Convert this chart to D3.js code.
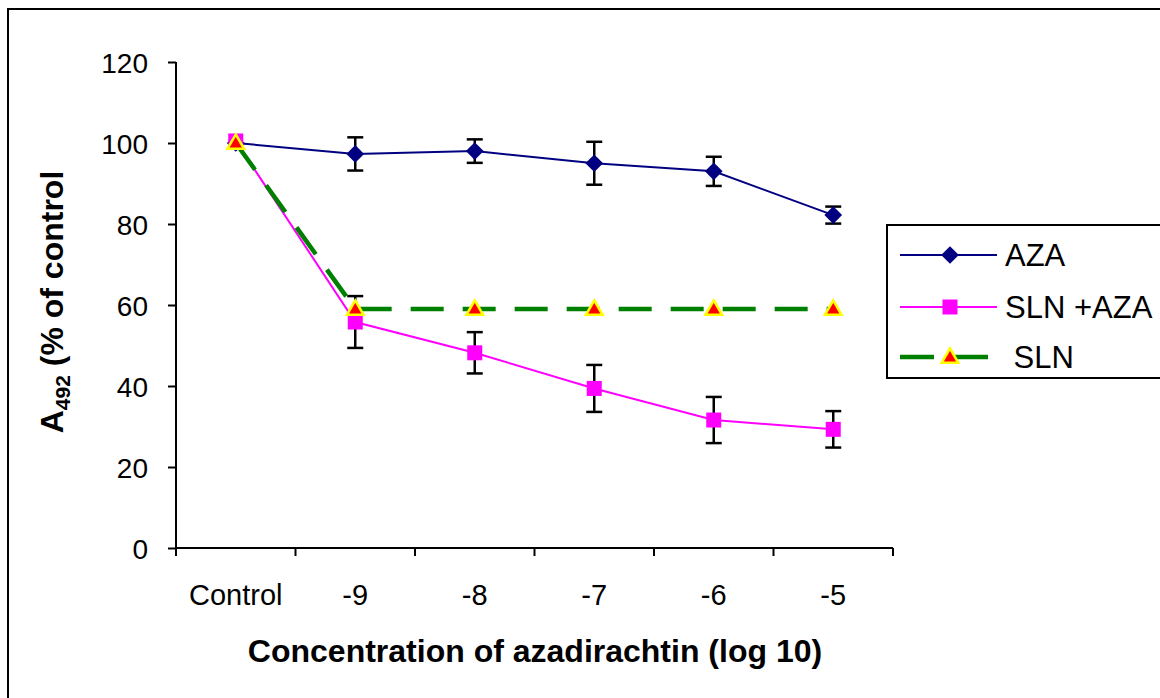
<!DOCTYPE html>
<html>
<head>
<meta charset="utf-8">
<script src="https://cdn.jsdelivr.net/npm/d3@7"></script>
<style>
  body { margin: 0; background: #fff; }
  svg { font-family: "Liberation Sans", Arial, sans-serif; }
</style>
</head>
<body>
<svg id="chart" width="1160" height="698"></svg>
<script>
// Chart data
const categories = ["Control", "-9", "-8", "-7", "-6", "-5"];
const azaValues = [100, 97.3, 98, 95, 93, 82.2];
const azaErrors = [0, 4.1, 2.9, 5.3, 3.6, 2.1];
const slnAzaValues = [100.5, 55.8, 48.2, 39.4, 31.6, 29.3];
const slnAzaErrors = [0, 6.4, 5.1, 5.8, 5.7, 4.5];
const slnValues = [100, 59, 59, 59, 59, 59];
const yTicks = [0, 20, 40, 60, 80, 100, 120];

const svg = d3.select("#chart");

// Outer frame
svg.append("rect")
    .attr("x", 8).attr("y", 9)
    .attr("width", 1170).attr("height", 710)
    .attr("fill", "none")
    .attr("stroke", "black")
    .attr("stroke-width", 2);

const plot = {left: 176, right: 893, top: 62, bottom: 548};

const x = d3.scaleBand()
    .domain(categories)
    .range([plot.left, plot.right]);

const y = d3.scaleLinear()
    .domain([0, 120])
    .range([plot.bottom, plot.top]);

const cx = d => x(d) + x.bandwidth() / 2;

// Y axis
const yAxis = svg.append("g")
    .attr("transform", `translate(${plot.left},0)`)
    .call(d3.axisLeft(y).tickValues(yTicks).tickSize(8).tickPadding(20));
yAxis.selectAll("text").style("font-size", "28px").attr("fill", "black").attr("dy", "0.36em");
yAxis.selectAll("line, path").attr("stroke", "black").attr("stroke-width", 2);
yAxis.select(".domain").attr("d", `M0,${plot.top}V${plot.bottom}`);

// X axis: line, boundary ticks, category labels
svg.append("line")
    .attr("x1", plot.left).attr("x2", plot.right)
    .attr("y1", plot.bottom).attr("y2", plot.bottom)
    .attr("stroke", "black").attr("stroke-width", 2);

const boundaries = categories.map(c => x(c)).concat([x.range()[1]]);
svg.selectAll(".xtick")
    .data(boundaries)
    .join("line")
    .attr("x1", d => d).attr("x2", d => d)
    .attr("y1", plot.bottom).attr("y2", plot.bottom + 8)
    .attr("stroke", "black").attr("stroke-width", 2);

svg.selectAll(".xlabel")
    .data(categories)
    .join("text")
    .attr("x", d => cx(d))
    .attr("y", 605)
    .attr("text-anchor", "middle")
    .style("font-size", "29px")
    .text(d => d);

// Axis titles
svg.append("text")
    .attr("x", 535).attr("y", 662)
    .attr("text-anchor", "middle")
    .style("font-size", "32px")
    .style("font-weight", "bold")
    .text("Concentration of azadirachtin (log 10)");

const yTitle = svg.append("text")
    .attr("transform", `translate(63,302) rotate(-90)`)
    .attr("text-anchor", "middle")
    .style("font-size", "32px")
    .style("font-weight", "bold");
yTitle.append("tspan").text("A");
yTitle.append("tspan").attr("dy", 7).style("font-size", "21px").text("492");
yTitle.append("tspan").attr("dy", -7).text(" (% of control");

// Series
const series = [
    {name: "AZA", values: azaValues, errors: azaErrors, color: "#000080", width: 2, dash: null, marker: "diamond"},
    {name: "SLN +AZA", values: slnAzaValues, errors: slnAzaErrors, color: "#FF00FF", width: 2, dash: null, marker: "square"},
    {name: " SLN", values: slnValues, errors: null, color: "#008000", width: 4.5, dash: "33,19", marker: "triangle"}
];

const line = d3.line()
    .x((d, i) => cx(categories[i]))
    .y(d => y(d));

function drawMarker(g, type, px, py) {
    if (type === "diamond") {
        g.append("path")
            .attr("d", d3.symbol(d3.symbolDiamond2, 200)())
            .attr("transform", `translate(${px},${py})`)
            .attr("fill", "#000080");
    } else if (type === "square") {
        g.append("rect")
            .attr("x", px - 7.5).attr("y", py - 7.5)
            .attr("width", 15).attr("height", 15)
            .attr("fill", "#FF00FF");
    } else {
        g.append("path")
            .attr("d", d3.symbol(d3.symbolTriangle, 120)())
            .attr("transform", `translate(${px},${py + 1})`)
            .attr("fill", "#FF0000")
            .attr("stroke", "#FFFF00")
            .attr("stroke-width", 2.5);
    }
}

series.forEach(s => {
    const g = svg.append("g");
    g.append("path")
        .datum(s.values)
        .attr("d", line)
        .attr("fill", "none")
        .attr("stroke", s.color)
        .attr("stroke-width", s.width)
        .attr("stroke-dasharray", s.dash);

    // Error bars
    if (s.errors) {
        s.values.forEach((v, i) => {
            const e = s.errors[i];
            if (!e) return;
            const px = cx(categories[i]);
            const eg = g.append("g").attr("stroke", "black").attr("stroke-width", 2.5);
            eg.append("line").attr("x1", px).attr("x2", px).attr("y1", y(v + e)).attr("y2", y(v - e));
            eg.append("line").attr("x1", px - 8).attr("x2", px + 8).attr("y1", y(v + e)).attr("y2", y(v + e));
            eg.append("line").attr("x1", px - 8).attr("x2", px + 8).attr("y1", y(v - e)).attr("y2", y(v - e));
        });
    }

    s.values.forEach((v, i) => drawMarker(g, s.marker, cx(categories[i]), y(v)));
});

// Legend
const legend = svg.append("g");
legend.append("rect")
    .attr("x", 887).attr("y", 225)
    .attr("width", 290).attr("height", 153)
    .attr("fill", "white")
    .attr("stroke", "black")
    .attr("stroke-width", 2);

const legendY = [255, 307, 357];
series.forEach((s, i) => {
    const ly = legendY[i];
    legend.append("line")
        .attr("x1", 900).attr("x2", s.dash ? 988 : 997)
        .attr("y1", ly).attr("y2", ly)
        .attr("stroke", s.color)
        .attr("stroke-width", s.width)
        .attr("stroke-dasharray", s.dash ? "34,21,34" : null);
    drawMarker(legend, s.marker, 950, ly);
    legend.append("text")
        .attr("x", 1005).attr("y", ly)
        .attr("dy", "0.36em")
        .style("font-size", "31px")
        .attr("xml:space", "preserve")
        .style("white-space", "pre")
        .text(s.name);
});
</script>
</body>
</html>
